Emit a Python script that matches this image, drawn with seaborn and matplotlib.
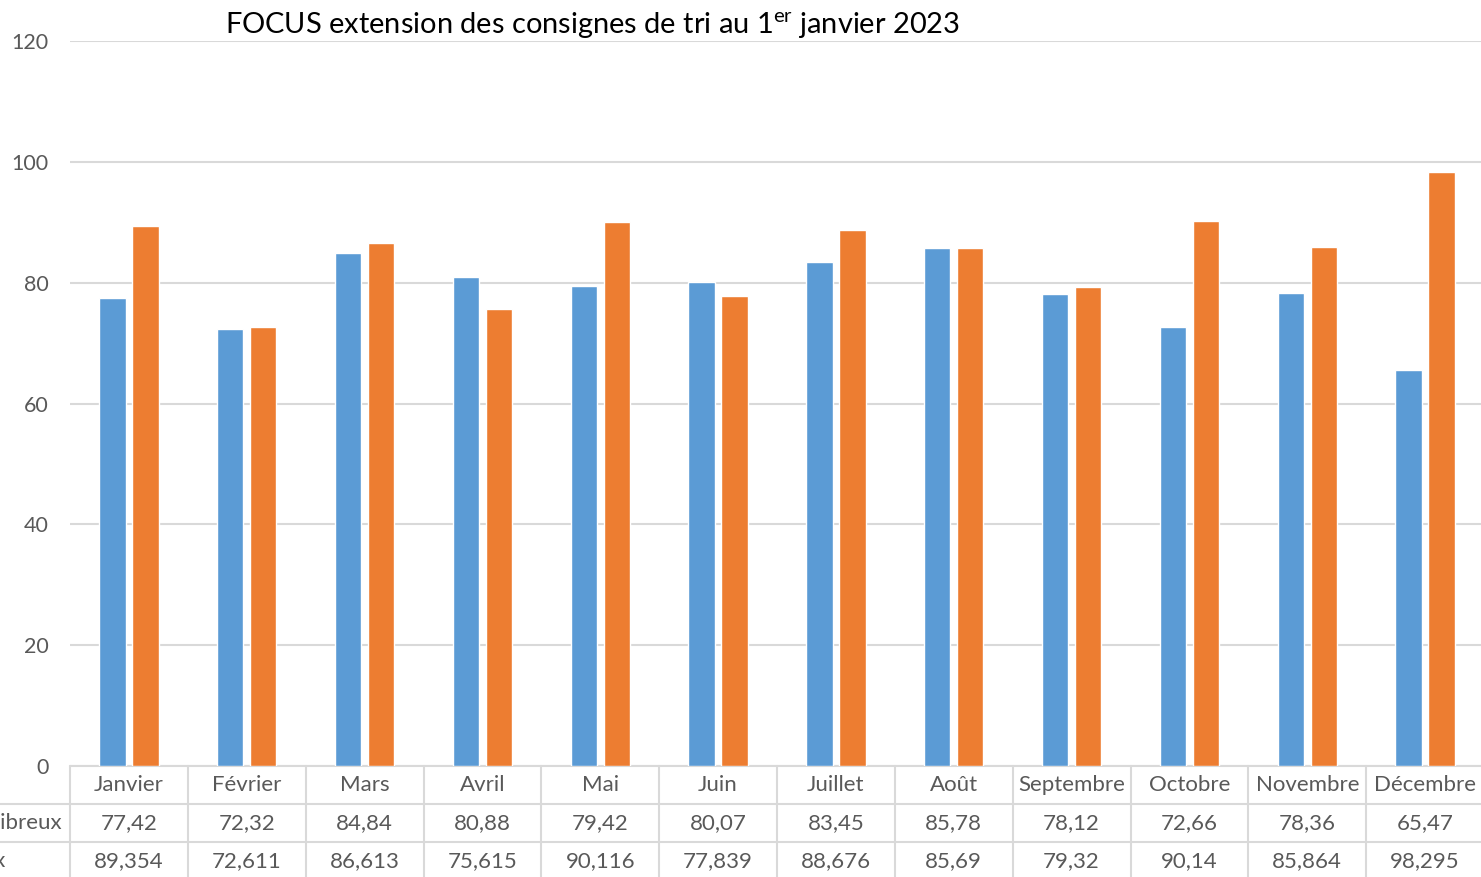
import matplotlib
matplotlib.use("Agg")
import matplotlib.pyplot as plt
import matplotlib.transforms as mtransforms
import seaborn as sns
import pandas as pd

months = ["Janvier", "Février", "Mars", "Avril", "Mai", "Juin", "Juillet",
          "Août", "Septembre", "Octobre", "Novembre", "Décembre"]
series_names = ["Emballages non fibreux", "Emballages fibreux"]
serie1 = [77.42, 72.32, 84.84, 80.88, 79.42, 80.07, 83.45, 85.78, 78.12, 72.66, 78.36, 65.47]
serie2 = [89.354, 72.611, 86.613, 75.615, 90.116, 77.839, 88.676, 85.69, 79.32, 90.14, 85.864, 98.295]
yticks = [0, 20, 40, 60, 80, 100, 120]
title = "FOCUS extension des consignes de tri au 1$^{\\mathrm{er}}$ janvier 2023"

colors = ["#5B9BD5", "#ED7D31"]
grid_c = "#D9D9D9"
text_c = "#595959"
font = "Lato"

sns.set_theme(style="white")
plt.rcParams["font.family"] = [font, "DejaVu Sans"]
plt.rcParams["mathtext.fontset"] = "custom"
plt.rcParams["mathtext.rm"] = font

df = pd.DataFrame({
    "mois": months * 2,
    "serie": [series_names[0]] * 12 + [series_names[1]] * 12,
    "valeur": serie1 + serie2,
})

W, H = 1481, 877
fig = plt.figure(figsize=(W / 100, H / 100), dpi=100)
x0, x1 = 70, 1484
y0, y1 = 766, 41
ax = fig.add_axes([x0 / W, (H - y0) / H, (x1 - x0) / W, (y0 - y1) / H])

sns.barplot(data=df, x="mois", y="valeur", hue="serie", order=months,
            hue_order=series_names, palette=colors, width=0.56, gap=0.2,
            saturation=1, ax=ax, legend=False, errorbar=None, zorder=3)

ax.set_xlim(-0.5, 11.5)
ax.set_ylim(0, 120)
ax.set_yticks(yticks)
ax.set_yticklabels([str(t) for t in yticks], color=text_c, fontsize=15.5)
ax.tick_params(axis="y", length=0, pad=15.5)
ax.set_xticks([])
ax.set_xlabel("")
ax.set_ylabel("")
for s in ax.spines.values():
    s.set_visible(False)
ax.yaxis.grid(True, color=grid_c, lw=1.5, zorder=0)
ax.set_axisbelow(True)

# data table
ax_h = y0 - y1
row_h = 38 / ax_h
trans = mtransforms.blended_transform_factory(ax.transData, ax.transAxes)
nrows = 3
bottom = -row_h * nrows - 0.05
for i in range(13):
    ax.plot([i - 0.5, i - 0.5], [0, bottom], transform=trans, color=grid_c,
            lw=1.5, clip_on=False, zorder=1)
ax.plot([-0.5, 11.5], [0, 0], transform=trans, color=grid_c, lw=1.5,
        clip_on=False, zorder=1)
for r in (1, 2):
    ax.plot([-2, 11.5], [-row_h * r, -row_h * r], transform=trans,
            color=grid_c, lw=1.5, clip_on=False, zorder=1)

fs = 16
fmt = lambda v: repr(v).replace(".", ",")
for i, m in enumerate(months):
    ax.text(i, -row_h * 0.5, m, transform=trans, ha="center", va="center",
            color=text_c, fontsize=fs, clip_on=False)
    ax.text(i, -row_h * 1.5, fmt(serie1[i]), transform=trans, ha="center",
            va="center", color=text_c, fontsize=fs, clip_on=False)
    ax.text(i, -row_h * 2.5, fmt(serie2[i]), transform=trans, ha="center",
            va="center", color=text_c, fontsize=fs, clip_on=False)

fig.text(62 / W, 1 - 823 / H, series_names[0], ha="right", va="center",
         color=text_c, fontsize=fs)
fig.text(5 / W, 1 - 861 / H, series_names[1], ha="right", va="center",
         color=text_c, fontsize=fs)

fig.text(225 / W, 1 - 26 / H, title, ha="left", va="center", color="black",
         fontsize=20.9)

fig.savefig("out.png", dpi=100)
